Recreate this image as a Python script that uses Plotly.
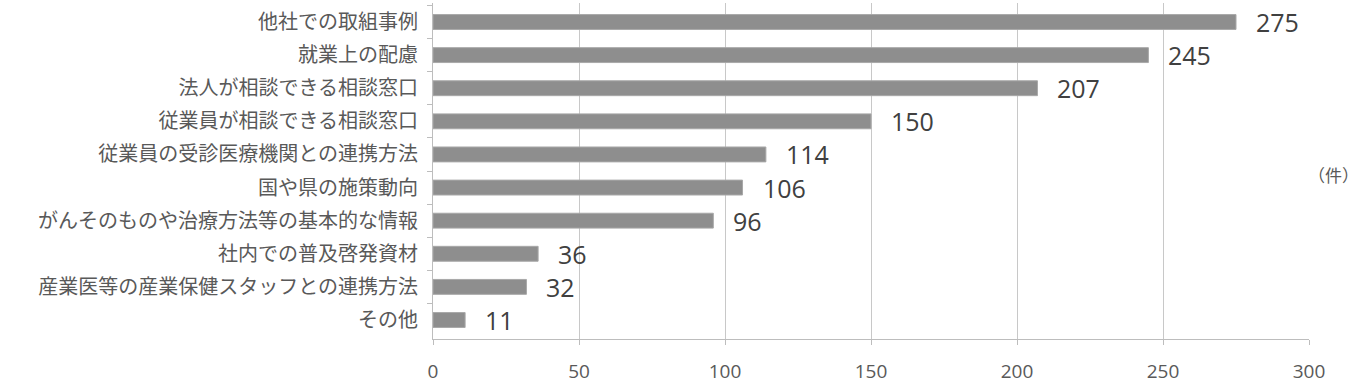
import plotly.graph_objects as go

categories = [
    "他社での取組事例",
    "就業上の配慮",
    "法人が相談できる相談窓口",
    "従業員が相談できる相談窓口",
    "従業員の受診医療機関との連携方法",
    "国や県の施策動向",
    "がんそのものや治療方法等の基本的な情報",
    "社内での普及啓発資材",
    "産業医等の産業保健スタッフとの連携方法",
    "その他",
]
values = [275, 245, 207, 150, 114, 106, 96, 36, 32, 11]
x_ticks = [0, 50, 100, 150, 200, 250, 300]
unit_label = "（件）"

cat_font = "Noto Sans CJK JP"
num_font = "Open Sans"

W, H = 1362, 387
ML, MR, MT, MB = 433, 53, 3, 45
plot_w = W - ML - MR

fig = go.Figure()
fig.add_trace(go.Bar(
    x=values,
    y=categories,
    orientation="h",
    marker=dict(color="#8e8e8e", line=dict(color="#a8a8a8", width=1)),
    width=0.45,
    hoverinfo="skip",
))

for c, v in zip(categories, values):
    fig.add_annotation(
        x=v, y=c, text=str(v), showarrow=False,
        xanchor="left", yanchor="middle", xshift=18, yshift=0,
        font=dict(family=num_font, size=25, color="#404040"),
    )

fig.add_annotation(
    x=1.0 + (MR - 1) / plot_w, y=0.5, xref="paper", yref="paper", text=unit_label,
    showarrow=False, xanchor="right", yanchor="middle", yshift=-3,
    font=dict(family=cat_font, size=17, color="#595959"),
)

fig.update_layout(
    width=W, height=H,
    margin=dict(l=ML, r=MR, t=MT, b=MB),
    paper_bgcolor="white", plot_bgcolor="white",
    showlegend=False,
    bargap=0.55,
    xaxis=dict(
        range=[0, 300], tickvals=x_ticks, ticktext=[str(t) for t in x_ticks],
        showgrid=True, gridcolor="#c8c8c8", gridwidth=1,
        showline=True, linecolor="#bdbdbd", linewidth=1,
        ticks="outside", ticklen=5, tickcolor="#bdbdbd",
        tickfont=dict(family=num_font, size=19, color="#595959"),
        ticklabelstandoff=10,
        zeroline=False, fixedrange=True,
    ),
    yaxis=dict(
        autorange="reversed", type="category",
        showline=True, linecolor="#bdbdbd", linewidth=1,
        ticks="outside", ticklen=5, tickcolor="#bdbdbd", tickson="boundaries",
        tickfont=dict(family=cat_font, size=20, color="#595959"),
        ticklabelstandoff=10, fixedrange=True,
    ),
)

fig.write_html("out.html")
